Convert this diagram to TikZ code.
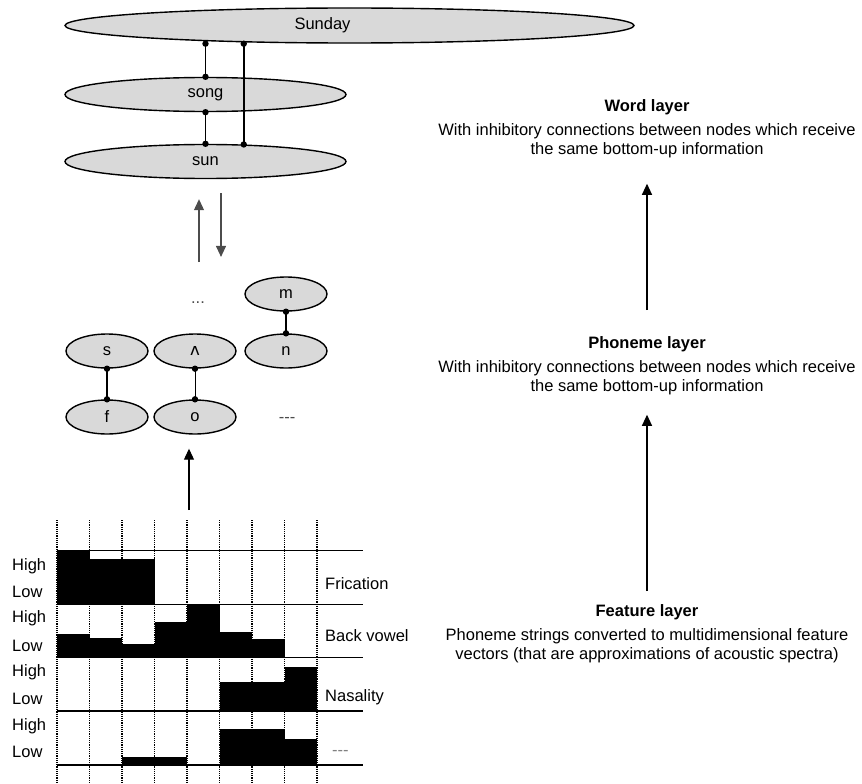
\documentclass[tikz,border=0pt]{standalone}
\usepackage{fontspec}
\setmainfont{Liberation Sans}
\newfontfamily\ipafont{DejaVu Sans}
\usetikzlibrary{shapes.geometric,arrows.meta}

\tikzset{
	txt/.style={font=\fontsize{16.5}{19}\selectfont,inner sep=0pt},
	unit/.style={txt,draw,ellipse,fill=gray!30,line width=1.4pt,minimum width=82pt,minimum height=34pt},
	wordunit/.style={unit,minimum width=281pt},
	inhib/.style={line width=1.8pt},
	up/.style={-{Triangle[length=11pt,width=10pt]},line width=1.1pt},
	grid/.style={densely dotted,line width=1.2pt},
}

\begin{document}
\begin{tikzpicture}[x=1pt,y=-1pt]
\useasboundingbox (0,0) rectangle (862,784);

\node[unit,minimum width=569pt,minimum height=35pt,label={[txt,xshift=-27pt]center:Sunday}](Sunday) at (349.5,25.5) {};
\node[wordunit](song) at (205.5,94.5) {song};
\node[wordunit](sun) at (205.5,161.5) {sun};

\draw[inhib](song.north |- Sunday.south)--(song.north);
\draw[inhib](song.south)--(sun.north);
\draw[inhib](sun.24 |- Sunday.south)--(sun.24);
\foreach \x in {song.north |- Sunday.south,song.north,song.south,sun.north,sun.24 |- Sunday.south,sun.24}
	\fill(\x)circle[radius=3.2pt];

\node[unit](s) at (107,351) {s};
\node[unit](wedge) at (195,351) {\ipafont ʌ};
\node[unit](n) at (286,351) {n};
\node[unit](m) at (286,294) {m};
\node[unit](f) at (107,417) {f};
\node[unit](o) at (195,417) {o};
\node[txt,gray!60!black](dots) at (198,303) {...};
\node[txt,gray!60!black](more) at (287,420) {-{}-{}-};

\draw[line width=2.2pt](s.south)--(f.north);
\draw[line width=0.9pt](wedge.south)--(o.north);
\draw[inhib](m.south)--(n.north);
\foreach \x in {s.south,f.north,wedge.south,o.north,m.south,n.north}
	\fill(\x)circle[radius=3.2pt];

\coordinate (wu) at (199,262);
\coordinate (wd) at (221,193);
\draw[up,gray!60!black,shorten >=20pt](wu)--(wu |- sun.south);
\draw[up,gray!60!black,shorten >=45pt](wd)--(wd |- dots.north);

\coordinate (ftop) at (189,510);
\draw[up,shorten >=14pt](ftop)--(ftop |- o.south);

\foreach \i in {0,...,8}
	\draw[grid]({57+32.5*\i},520)--({57+32.5*\i},784);
\foreach \y/\w in {550/0.9,604/0.9,657/0.9,711/1.6,765/1.6}
	\draw[line width=\w pt](57,\y)--(363,\y);

\foreach \c/\t/\b in {0/550/604,1/559/604,2/559/604,
		0/634/657,1/638/657,2/644/657,3/622/657,4/604/657,5/632/657,6/639/657,
		5/682/711,6/682/711,7/667/711,
		2/757/765,3/757/765,5/729/765,6/729/765,7/739/765}
	\fill({57+32.5*\c},\t)rectangle({89.5+32.5*\c},\b);

\foreach \y/\l [count=\k] in {566/High,592/Low,618/High,646/Low,672/High,699/Low,726/High,752/Low}
	\node[txt,anchor=west](lvl\k) at (12,\y) {\l};
\foreach \y/\l [count=\k] in {584/Frication,636/Back vowel,697/Nasality}
	\node[txt,anchor=west](feat\k) at (325,\y) {\l};
\node[txt,anchor=west,gray](feat4) at (332,753) {-{}-{}-};

\node[txt,align=center,anchor=north](word) at (647,99)
	{\textbf{Word layer}\\[5pt]With inhibitory connections between nodes which receive\\the same bottom-up information};
\node[txt,align=center,anchor=north](phon) at (647,336)
	{\textbf{Phoneme layer}\\[5pt]With inhibitory connections between nodes which receive\\the same bottom-up information};
\node[txt,align=center,anchor=north](feature) at (647,604)
	{\textbf{Feature layer}\\[5pt]Phoneme strings converted to multidimensional feature\\vectors (that are approximations of acoustic spectra)};

\draw[up,shorten <=26pt,shorten >=26pt](phon.north)--(word.south);
\draw[up,shorten <=13pt,shorten >=20pt](feature.north)--(phon.south);
\end{tikzpicture}
\end{document}
